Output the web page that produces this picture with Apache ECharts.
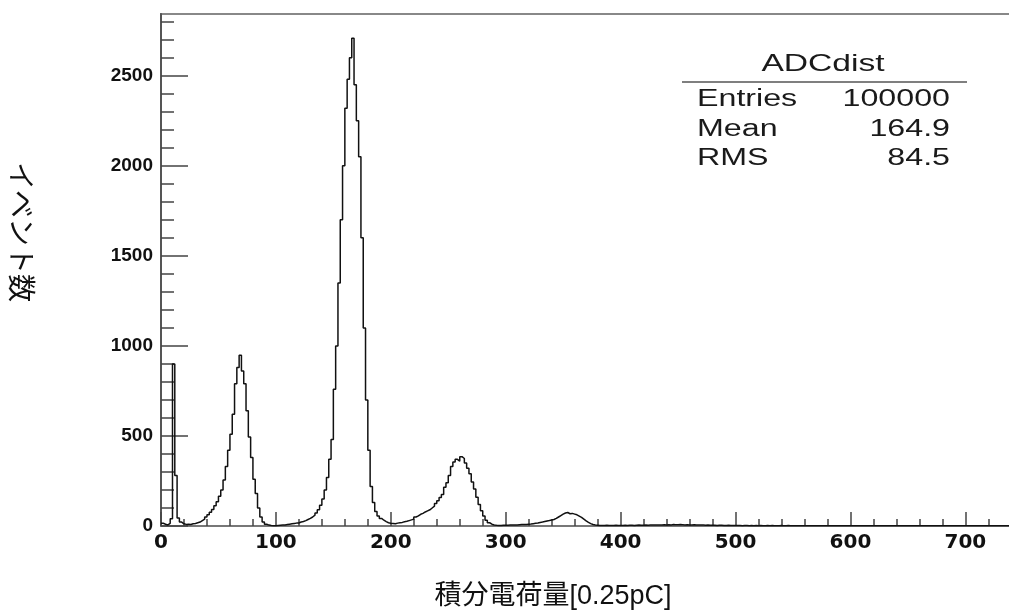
<!DOCTYPE html>
<html>
<head>
<meta charset="utf-8">
<title>ADCdist</title>
<script src="https://cdn.jsdelivr.net/npm/echarts@6/dist/echarts.min.js"></script>
<style>
  html, body { margin: 0; padding: 0; background: #fff; }
  #main { width: 1009px; height: 616px; }
</style>
</head>
<body>
<div id="main"></div>
<script>
// histogram bins, width 2 (left edge = index * binWidth)
var binWidth = 2;
var counts = [
  // 0-40
  15, 10, 6, 15, 40, 900, 280, 45, 22, 12,
  9, 10, 8, 12, 14, 18, 22, 30, 38, 50,
  // 40-80
  62, 76, 92, 112, 135, 165, 200, 255, 330, 420,
  510, 620, 790, 880, 948, 860, 790, 640, 494, 380,
  // 80-120
  260, 180, 100, 50, 22, 10, 5, 3, 2, 2,
  3, 4, 5, 6, 8, 10, 12, 14, 16, 17,
  // 120-160
  22, 25, 30, 36, 42, 50, 60, 72, 90, 115,
  150, 200, 270, 370, 480, 760, 1000, 1350, 1700, 2000,
  // 160-200
  2320, 2480, 2600, 2708, 2450, 2250, 2050, 1600, 1100, 700,
  420, 220, 130, 80, 55, 42, 32, 24, 18, 15,
  // 200-240
  14, 12, 16, 18, 20, 24, 26, 30, 34, 38,
  50, 56, 65, 70, 78, 84, 90, 100, 110, 125,
  // 240-280
  140, 158, 175, 215, 240, 280, 330, 355, 370, 360,
  385, 375, 350, 320, 290, 245, 205, 160, 120, 85,
  // 280-320
  55, 32, 18, 10, 6, 4, 3, 3, 4, 4,
  4, 5, 5, 6, 6, 7, 8, 9, 9, 10,
  // 320-360
  11, 13, 15, 17, 20, 22, 25, 28, 30, 33,
  36, 42, 50, 58, 66, 72, 75, 68, 70, 66,
  // 360-400
  62, 55, 48, 38, 28, 20, 13, 8, 5, 4,
  3, 3, 3, 4, 3, 3, 3, 4, 3, 3,
  // 400-440
  3, 4, 3, 4, 4, 3, 4, 5, 4, 4,
  5, 4, 5, 5, 6, 5, 6, 6, 7, 6,
  // 440-480
  7, 6, 8, 7, 7, 8, 7, 6, 7, 6,
  6, 7, 5, 6, 5, 5, 4, 5, 4, 4,
  // 480-520
  4, 3, 4, 4, 3, 3, 4, 3, 3, 3,
  3, 3, 2, 3, 3, 2, 3, 2, 3, 2,
  // 520-560
  3, 2, 2, 3, 2, 3, 2, 2, 2, 3,
  2, 2, 3, 2, 2, 1, 2, 2, 1, 2,
  // 560-600
  1, 2, 1, 2, 1, 1, 2, 1, 1, 1,
  2, 1, 1, 1, 2, 1, 1, 1, 1, 1,
  // 600-640
  1, 1, 1, 1, 2, 1, 1, 1, 1, 1,
  1, 1, 1, 1, 1, 1, 2, 1, 1, 1,
  // 640-680
  1, 1, 1, 1, 1, 1, 1, 1, 1, 1,
  1, 1, 1, 1, 1, 1, 1, 1, 1, 1,
  // 680-738
  1, 1, 1, 1, 1, 1, 1, 1, 1, 1,
  1, 1, 1, 1, 1, 1, 1, 1, 1, 1,
  1, 1, 1, 1, 1, 1, 1, 1, 1
];

var xMajorTicks = [0, 100, 200, 300, 400, 500, 600, 700];
var xMinorTicks = [0, 20, 40, 60, 80, 100, 120, 140, 160, 180, 200, 220, 240, 260, 280,
  300, 320, 340, 360, 380, 400, 420, 440, 460, 480, 500, 520, 540, 560, 580,
  600, 620, 640, 660, 680, 700, 720];
var yMajorTicks = [0, 500, 1000, 1500, 2000, 2500];
var yMinorTicks = [0, 100, 200, 300, 400, 500, 600, 700, 800, 900, 1000, 1100, 1200, 1300,
  1400, 1500, 1600, 1700, 1800, 1900, 2000, 2100, 2200, 2300, 2400, 2500, 2600, 2700, 2800];

var statNames = ['Entries', 'Mean', 'RMS'];
var statValues = ['100000', '164.9', '84.5'];
var histName = 'ADCdist';
var xTitle = '積分電荷量[0.25pC]';
var yTitle = 'イベント数';

var xMax = 738;
var yMax = 2843;

var histData = [];
for (var i = 0; i < counts.length; i++) {
  histData.push([i * binWidth, counts[i]]);
}
histData.push([counts.length * binWidth, counts[counts.length - 1]]);

var myChart = echarts.init(document.getElementById('main'));

var statFont = '23px "Liberation Sans", Arial, sans-serif';
var statText = [];
for (var j = 0; j < statNames.length; j++) {
  statText.push({
    type: 'text', x: 697, y: 100 + j * 29.5, scaleX: 1.4,
    style: { text: statNames[j], align: 'left', verticalAlign: 'middle', font: statFont, fill: '#1a1a1a' }
  });
  statText.push({
    type: 'text', x: 950, y: 100 + j * 29.5, scaleX: 1.4,
    style: { text: statValues[j], align: 'right', verticalAlign: 'middle', font: statFont, fill: '#1a1a1a' }
  });
}

var option = {
  animation: false,
  grid: {
    left: 161, right: -3, top: 14, bottom: 90,
    show: false
  },
  xAxis: [{
    type: 'value', min: 0, max: xMax, interval: 100,
    axisLine: { show: true, lineStyle: { color: '#777', width: 2 } },
    axisTick: { inside: true, length: 14, customValues: xMajorTicks, lineStyle: { color: '#444', width: 1.5 } },
    axisLabel: {
      customValues: xMajorTicks, margin: 7, color: '#111',
      fontFamily: 'DejaVu Sans', fontWeight: 'bold', fontSize: 20,
      formatter: function (v) { return String(v); }
    },
    splitLine: { show: false }
  }, {
    type: 'value', min: 0, max: xMax, position: 'bottom',
    axisLine: { show: false },
    axisTick: { inside: true, length: 7, customValues: xMinorTicks, lineStyle: { color: '#444', width: 1.5 } },
    axisLabel: { show: false },
    splitLine: { show: false }
  }],
  yAxis: [{
    type: 'value', min: 0, max: yMax, interval: 500,
    axisLine: { show: true, lineStyle: { color: '#555', width: 2 } },
    axisTick: { show: true, inside: true, length: 27, customValues: yMajorTicks, lineStyle: { color: '#444', width: 1.5 } },
    axisLabel: {
      customValues: yMajorTicks, margin: 8, color: '#111',
      fontFamily: '"Liberation Sans", Arial', fontWeight: 'bold', fontSize: 19,
      formatter: function (v) { return String(v); }
    },
    splitLine: { show: false }
  }, {
    type: 'value', min: 0, max: yMax, position: 'left', offset: 0,
    axisLine: { show: false },
    axisTick: { show: true, inside: true, length: 13, customValues: yMinorTicks, lineStyle: { color: '#444', width: 1.5 } },
    axisLabel: { show: false },
    splitLine: { show: false }
  }],
  series: [{
    type: 'line',
    name: histName,
    xAxisIndex: 0,
    yAxisIndex: 0,
    step: 'end',
    symbol: 'none',
    data: histData,
    lineStyle: { color: '#111', width: 1.5 }
  }],
  graphic: [
    {
      // top frame line
      type: 'line', shape: { x1: 160, y1: 14, x2: 1009, y2: 14 },
      style: { stroke: '#888', lineWidth: 2 }
    },
    {
      type: 'text', x: 823, y: 64, scaleX: 1.4,
      style: { text: histName, align: 'center', verticalAlign: 'middle', font: '24px "Liberation Sans", Arial, sans-serif', fill: '#1a1a1a' }
    },
    {
      type: 'line', shape: { x1: 682, y1: 82, x2: 967, y2: 82 },
      style: { stroke: '#555', lineWidth: 1.5 }
    },
    {
      type: 'text', x: 553, y: 597,
      style: {
        text: xTitle, align: 'center', verticalAlign: 'middle',
        font: '27px "Liberation Sans", "Noto Sans CJK JP", sans-serif', fill: '#111'
      }
    },
    {
      type: 'text', x: 22, y: 232, rotation: -Math.PI / 2,
      style: {
        text: yTitle, align: 'center', verticalAlign: 'middle',
        font: '28px "Noto Sans CJK JP", sans-serif', fill: '#111'
      }
    }
  ].concat(statText)
};

myChart.setOption(option);
</script>
</body>
</html>
